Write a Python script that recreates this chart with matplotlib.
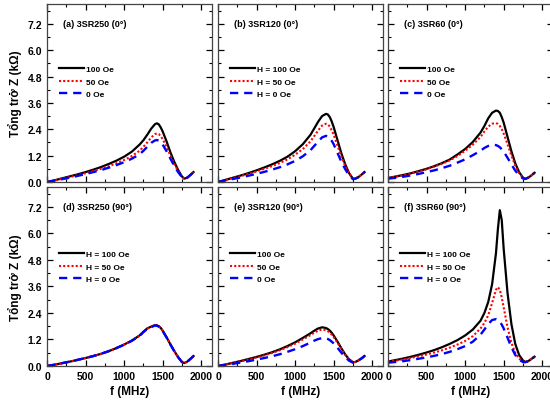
import matplotlib
matplotlib.use("Agg")
import matplotlib.pyplot as plt
from matplotlib.ticker import MultipleLocator

plt.rcParams['font.family'] = ['Liberation Sans', 'DejaVu Sans']
plt.rcParams['font.weight'] = 'bold'

# frequency grid (MHz)
freq = [0, 100, 200, 300, 400, 500, 600, 700, 800, 900, 1000, 1100, 1200, 1250, 1300,
        1350, 1400, 1425, 1450, 1475, 1500, 1550, 1600, 1650, 1700, 1750, 1780, 1820, 1860, 1900]

# (a) 3SR250 (0°)
a_100 = [0.0, 0.08, 0.17, 0.26, 0.35, 0.45, 0.56, 0.68, 0.82, 0.97, 1.15, 1.38, 1.7, 1.9, 2.15,
         2.42, 2.63, 2.67, 2.62, 2.48, 2.3, 1.85, 1.35, 0.92, 0.55, 0.25, 0.15, 0.2, 0.32, 0.45]
a_50 = [0.0, 0.07, 0.15, 0.23, 0.31, 0.4, 0.5, 0.6, 0.72, 0.85, 1.0, 1.18, 1.42, 1.6, 1.8,
        2.02, 2.18, 2.21, 2.18, 2.08, 1.95, 1.6, 1.2, 0.82, 0.5, 0.23, 0.15, 0.2, 0.32, 0.45]
a_0 = [0.0, 0.06, 0.13, 0.2, 0.28, 0.36, 0.45, 0.54, 0.65, 0.77, 0.9, 1.06, 1.26, 1.42, 1.6,
       1.78, 1.89, 1.91, 1.88, 1.8, 1.7, 1.4, 1.06, 0.74, 0.45, 0.22, 0.15, 0.2, 0.32, 0.45]

# (b) 3SR120 (0°)
b_100 = [0.0, 0.1, 0.2, 0.3, 0.41, 0.53, 0.66, 0.8, 0.96, 1.15, 1.4, 1.72, 2.15, 2.45, 2.75,
         3.0, 3.1, 3.07, 2.95, 2.75, 2.5, 1.9, 1.3, 0.8, 0.4, 0.15, 0.15, 0.22, 0.33, 0.45]
b_50 = [0.0, 0.09, 0.18, 0.27, 0.37, 0.48, 0.6, 0.72, 0.86, 1.03, 1.24, 1.5, 1.85, 2.1, 2.35,
        2.57, 2.65, 2.62, 2.52, 2.35, 2.15, 1.65, 1.15, 0.72, 0.38, 0.15, 0.15, 0.22, 0.33, 0.45]
b_0 = [0.0, 0.07, 0.14, 0.21, 0.29, 0.37, 0.46, 0.56, 0.67, 0.8, 0.96, 1.17, 1.45, 1.65, 1.85,
       2.03, 2.1, 2.07, 2.0, 1.87, 1.72, 1.32, 0.92, 0.58, 0.3, 0.13, 0.15, 0.22, 0.33, 0.45]

# (c) 3SR60 (0°)
c_100 = [0.18, 0.25, 0.32, 0.4, 0.5, 0.6, 0.72, 0.86, 1.02, 1.25, 1.5, 1.82, 2.25, 2.55, 2.9,
         3.15, 3.25, 3.23, 3.15, 2.95, 2.7, 2.05, 1.4, 0.85, 0.45, 0.2, 0.14, 0.2, 0.3, 0.42]
c_50 = [0.18, 0.24, 0.31, 0.39, 0.48, 0.58, 0.7, 0.83, 0.98, 1.18, 1.42, 1.7, 2.05, 2.3, 2.52,
        2.65, 2.68, 2.64, 2.55, 2.4, 2.2, 1.72, 1.2, 0.75, 0.4, 0.2, 0.14, 0.2, 0.3, 0.42]
c_0 = [0.15, 0.19, 0.24, 0.3, 0.37, 0.45, 0.53, 0.63, 0.74, 0.88, 1.03, 1.22, 1.42, 1.55, 1.64,
       1.69, 1.68, 1.64, 1.58, 1.49, 1.38, 1.1, 0.8, 0.52, 0.3, 0.16, 0.14, 0.2, 0.3, 0.42]

# (d) 3SR250 (90°)
d_100 = [0.0, 0.06, 0.13, 0.2, 0.28, 0.36, 0.45, 0.55, 0.67, 0.81, 0.97, 1.15, 1.38, 1.55, 1.7,
         1.78, 1.85, 1.84, 1.8, 1.72, 1.6, 1.3, 0.98, 0.68, 0.4, 0.18, 0.13, 0.2, 0.32, 0.45]
d_50 = [0.0, 0.06, 0.13, 0.2, 0.28, 0.36, 0.45, 0.55, 0.67, 0.81, 0.97, 1.15, 1.37, 1.54, 1.69,
        1.77, 1.84, 1.83, 1.79, 1.71, 1.59, 1.3, 0.98, 0.68, 0.4, 0.18, 0.13, 0.2, 0.32, 0.45]
d_0 = [0.0, 0.06, 0.13, 0.2, 0.28, 0.36, 0.45, 0.55, 0.67, 0.81, 0.96, 1.14, 1.36, 1.53, 1.68,
       1.76, 1.83, 1.82, 1.78, 1.7, 1.58, 1.29, 0.97, 0.67, 0.4, 0.18, 0.13, 0.2, 0.32, 0.45]

# (e) 3SR120 (90°)
e_100 = [0.0, 0.07, 0.15, 0.23, 0.32, 0.41, 0.51, 0.62, 0.75, 0.9, 1.07, 1.27, 1.48, 1.6, 1.7,
         1.75, 1.72, 1.67, 1.6, 1.5, 1.38, 1.1, 0.8, 0.52, 0.3, 0.17, 0.18, 0.25, 0.34, 0.45]
e_50 = [0.0, 0.07, 0.14, 0.22, 0.3, 0.39, 0.48, 0.59, 0.71, 0.85, 1.01, 1.2, 1.4, 1.51, 1.6,
        1.65, 1.62, 1.57, 1.51, 1.42, 1.31, 1.05, 0.77, 0.5, 0.29, 0.17, 0.18, 0.25, 0.34, 0.45]
e_0 = [0.0, 0.05, 0.1, 0.16, 0.22, 0.29, 0.36, 0.44, 0.53, 0.64, 0.76, 0.9, 1.06, 1.15, 1.22,
       1.26, 1.25, 1.22, 1.17, 1.1, 1.02, 0.82, 0.6, 0.4, 0.24, 0.15, 0.17, 0.25, 0.34, 0.45]

# (f) 3SR60 (90°)
f_100 = [0.2, 0.27, 0.34, 0.42, 0.51, 0.61, 0.72, 0.85, 1.0, 1.17, 1.38, 1.65, 2.05, 2.4, 2.9,
         3.7, 5.1, 6.2, 7.05, 6.6, 5.3, 3.3, 1.9, 1.0, 0.5, 0.25, 0.18, 0.22, 0.32, 0.42]
f_50 = [0.2, 0.24, 0.3, 0.37, 0.44, 0.52, 0.61, 0.71, 0.83, 0.97, 1.13, 1.35, 1.7, 1.95, 2.3,
        2.85, 3.45, 3.57, 3.45, 3.1, 2.65, 1.75, 1.05, 0.6, 0.33, 0.2, 0.18, 0.22, 0.32, 0.42]
f_0 = [0.15, 0.18, 0.22, 0.27, 0.33, 0.39, 0.46, 0.54, 0.64, 0.76, 0.9, 1.1, 1.42, 1.65, 1.9,
       2.08, 2.12, 2.08, 2.0, 1.87, 1.7, 1.28, 0.85, 0.5, 0.28, 0.18, 0.17, 0.22, 0.32, 0.42]

titles = ['(a) 3SR250 (0°)', '(b) 3SR120 (0°)', '(c) 3SR60 (0°)',
          '(d) 3SR250 (90°)', '(e) 3SR120 (90°)', '(f) 3SR60 (90°)']
labels_short = ['100 Oe', '50 Oe', '0 Oe']
labels_h = ['H = 100 Oe', 'H = 50 Oe', 'H = 0 Oe']
panel_labels = [labels_short, labels_h, labels_short, labels_h, labels_short, labels_h]
panel_data = [(a_100, a_50, a_0), (b_100, b_50, b_0), (c_100, c_50, c_0),
              (d_100, d_50, d_0), (e_100, e_50, e_0), (f_100, f_50, f_0)]

fig = plt.figure(figsize=(5.5, 4.06), dpi=100)

col_left = [0.0855, 0.3964, 0.7055]
row_bottom = [0.5493, 0.0961]
row_height = [0.4384, 0.4409]
width = 0.30

for i in range(6):
    r, c = divmod(i, 3)
    ax = fig.add_axes([col_left[c], row_bottom[r], width, row_height[r]])
    z100, z50, z0 = panel_data[i]
    labs = panel_labels[i]
    ax.plot(freq, z100, color='black', lw=1.6, ls='-', label=labs[0])
    ax.plot(freq, z50, color='red', lw=1.5, ls=(0, (1, 1)), label=labs[1])
    ax.plot(freq, z0, color='blue', lw=1.7, ls=(0, (3.5, 2.5)), label=labs[2])

    ax.set_xlim(0, 2140)
    ax.set_ylim(0, 8.1)
    ax.xaxis.set_major_locator(MultipleLocator(500))
    ax.xaxis.set_minor_locator(MultipleLocator(250))
    ax.yaxis.set_major_locator(MultipleLocator(1.2))
    ax.yaxis.set_minor_locator(MultipleLocator(0.6))
    ax.tick_params(which='both', direction='in', top=True, right=True, labelsize=7.5)
    ax.tick_params(which='major', length=4, width=0.9)
    ax.tick_params(which='minor', length=2.5, width=0.8)
    for s in ax.spines.values():
        s.set_linewidth(0.9)
        s.set_color('#444444')

    if c == 0:
        ax.set_ylabel('Tổng trở Z (kΩ)', fontsize=8.5, fontweight='bold', labelpad=4)
        ax.set_yticklabels([f'{v:.1f}' for v in ax.get_yticks()])
    else:
        ax.tick_params(labelleft=False)
    if r == 1:
        ax.set_xlabel('f (MHz)', fontsize=8.5, fontweight='bold', labelpad=3)
    else:
        ax.tick_params(labelbottom=False)

    ax.text(0.097, 0.89, titles[i], transform=ax.transAxes, fontsize=6.5,
            fontweight='bold', va='center', ha='left')
    top = 0.655 if r == 0 else 0.645
    ax.legend(loc='upper left', bbox_to_anchor=(0.075, top), frameon=False,
              fontsize=6, borderpad=0, borderaxespad=0, handlelength=3.0,
              handletextpad=0.25, labelspacing=0.55, prop={'weight': 'bold', 'size': 6})

fig.savefig('out.png', dpi=100)
